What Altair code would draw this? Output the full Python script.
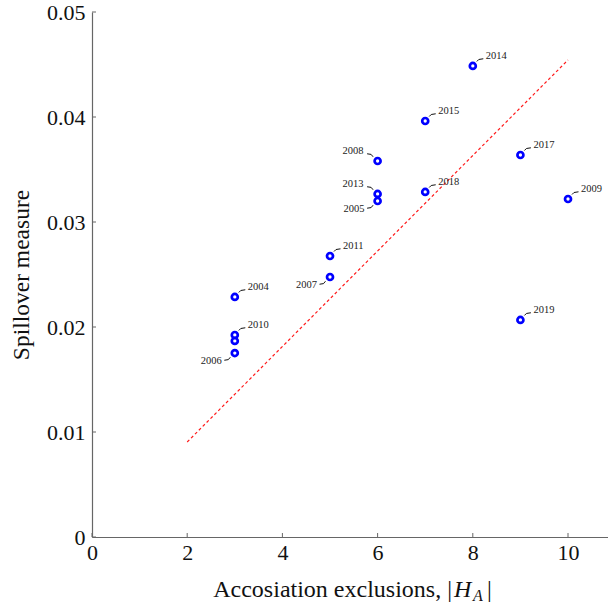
import altair as alt
import pandas as pd

# ---- data ----
years = ["2004", "2010", "", "2006", "2007", "2011", "2013", "2005", "2008",
         "2018", "2015", "2014", "2017", "2009", "2019"]
exclusions = [3, 3, 3, 3, 5, 5, 6, 6, 6, 7, 7, 8, 9, 10, 9]
spillover = [0.02286, 0.01924, 0.01867, 0.01752, 0.02476, 0.02676, 0.03267,
             0.03200, 0.03581, 0.03286, 0.03962, 0.04486, 0.03638, 0.03219, 0.02067]
placement = ["ur", "ur", "", "ll", "ll", "ur", "ul", "ll", "ul",
             "ur", "ur", "ur", "ur", "ur", "ur"]

fit_x = [2, 10]
fit_y = [0.00905, 0.04543]

x_ticks = [0, 2, 4, 6, 8, 10]
y_ticks = [0, 0.01, 0.02, 0.03, 0.04, 0.05]

# ---- layout ----
W, H = 516, 525
XMAX = 10.84
YMAX = 0.05
PX_X = W / XMAX
PX_Y = H / YMAX
FONT = "Liberation Serif"

pts = pd.DataFrame({"x": exclusions, "y": spillover, "label": years, "pos": placement})
fit = pd.DataFrame({"x": fit_x, "y": fit_y})

# leader curves (pixel offsets per placement)
leader_px = {
    "ur": [(4, -4.5), (6, -6.5), (10.5, -7.2)],
    "ll": [(-10.5, 7.2), (-6.5, 6.6), (-4.5, 4.2)],
    "ul": [(-10.5, -7.2), (-6.5, -6.6), (-4.5, -4.2)],
}
rows = []
for _, r in pts.iterrows():
    if not r["label"]:
        continue
    for i, (dx, dy) in enumerate(leader_px[r["pos"]]):
        rows.append({"label": r["label"], "i": i,
                     "x": r["x"] + dx / PX_X, "y": r["y"] - dy / PX_Y})
leaders = pd.DataFrame(rows)

xs = alt.Scale(domain=[0, XMAX], nice=False, zero=False)
ys = alt.Scale(domain=[0, YMAX], nice=False, zero=False)

base = alt.Chart(pts)

x_enc = alt.X("x:Q", scale=xs, axis=alt.Axis(
    values=x_ticks, title=None, grid=False, tickSize=0, labelFont=FONT,
    labelFontSize=22, labelColor="#111", labelPadding=5, domainColor="#666",
    domainWidth=1.2, labelFlush=False, labelOverlap=False))
y_enc = alt.Y("y:Q", scale=ys, axis=alt.Axis(
    values=y_ticks, title="Spillover measure", grid=False, tickSize=0,
    labelFont=FONT, labelFontSize=22, labelColor="#111", labelPadding=7,
    domainColor="#666", domainWidth=1.2, labelFlush=False, labelOverlap=False,
    labelExpr="datum.value == 0 ? '0' : format(datum.value, '.2f')",
    titleFont=FONT, titleFontSize=23.5, titleFontWeight="normal", titleColor="#111",
    titlePadding=13))

points = base.mark_point(filled=False, color="#0000ff", strokeWidth=2.7,
                         size=36, opacity=1).encode(x=x_enc, y=y_enc)

line = alt.Chart(fit).mark_line(color="#ff1a1a", strokeDash=[3, 2.5],
                                strokeWidth=1.2).encode(
    x=alt.X("x:Q", scale=xs), y=alt.Y("y:Q", scale=ys))

lead = alt.Chart(leaders).mark_line(color="#111", strokeWidth=1).encode(
    x=alt.X("x:Q", scale=xs), y=alt.Y("y:Q", scale=ys),
    detail="label:N", order="i:Q")

def labels(pos, align, dx, dy):
    return base.transform_filter(alt.datum.pos == pos).mark_text(
        font=FONT, fontSize=10.5, color="#222", align=align,
        baseline="alphabetic", dx=dx, dy=dy).encode(
        x=alt.X("x:Q", scale=xs), y=alt.Y("y:Q", scale=ys), text="label:N")

lab_ur = labels("ur", "left", 13, -7)
lab_ll = labels("ll", "right", -13, 11)
lab_ul = labels("ul", "right", -14, -7)

# inward tick marks
xt = alt.Chart(pd.DataFrame({"v": x_ticks})).mark_rule(color="#666", strokeWidth=1).encode(
    x=alt.X("v:Q", scale=xs), y=alt.value(H), y2=alt.value(H - 4))
yt = alt.Chart(pd.DataFrame({"v": y_ticks})).mark_rule(color="#666", strokeWidth=1).encode(
    y=alt.Y("v:Q", scale=ys), x=alt.value(0), x2=alt.value(4))

# x title composed of pieces (italic H, subscript A)
one = pd.DataFrame({"a": [0]})
TX = 360
TY = 585
t1 = alt.Chart(one).mark_text(text="Accosiation exclusions, |", font=FONT, fontSize=24,
                              color="#111", align="right", baseline="alphabetic").encode(
    x=alt.value(TX), y=alt.value(TY))
t2 = alt.Chart(one).mark_text(text="H", font=FONT, fontSize=24, fontStyle="italic",
                              color="#111", align="left", baseline="alphabetic").encode(
    x=alt.value(TX + 2), y=alt.value(TY))
t3 = alt.Chart(one).mark_text(text="A", font=FONT, fontSize=16, fontStyle="italic",
                              color="#111", align="left", baseline="alphabetic").encode(
    x=alt.value(TX + 21), y=alt.value(TY + 4))
t4 = alt.Chart(one).mark_text(text="|", font=FONT, fontSize=24,
                              color="#111", align="left", baseline="alphabetic").encode(
    x=alt.value(TX + 35), y=alt.value(TY))

chart = alt.layer(line, lead, points, lab_ur, lab_ll, lab_ul, xt, yt, t1, t2, t3, t4).properties(
    width=W, height=H,
    background="white",
    autosize=alt.AutoSizeParams(type="none"),
    padding={"left": 92, "top": 12, "right": 0, "bottom": 72},
).configure_view(stroke=None, strokeWidth=0)

chart.save("out.html", embed_options={"renderer": "svg", "actions": False})
